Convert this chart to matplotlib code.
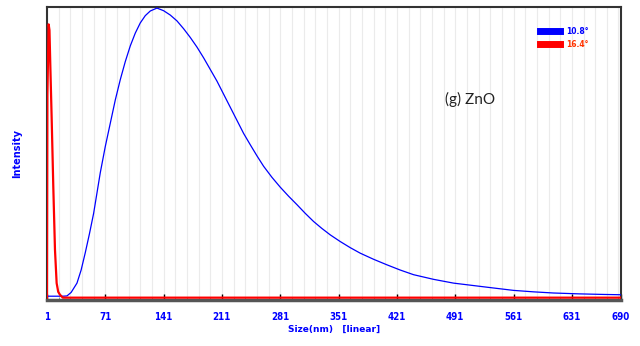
import matplotlib
matplotlib.use('Agg')
import matplotlib.pyplot as plt
from matplotlib.lines import Line2D
import numpy as np

# size distribution curves (intensity normalised to peak)
blue_x = [1, 20, 25, 30, 37, 42, 47, 52, 57, 61, 65, 71, 77, 83, 89, 95, 101, 107, 113, 119,
          125, 133, 141, 149, 157, 165, 173, 181, 189, 197, 205, 213, 221, 229, 237, 245,
          253, 261, 271, 281, 291, 301, 311, 321, 331, 341, 353, 365, 377, 393, 409, 425,
          441, 465, 489, 509, 529, 561, 585, 609, 640, 670, 690]
blue_y = [0.005, 0.005, 0.006, 0.018, 0.05, 0.095, 0.155, 0.22, 0.29, 0.36, 0.43, 0.52, 0.60,
          0.68, 0.75, 0.812, 0.866, 0.91, 0.945, 0.97, 0.986, 0.996, 0.987, 0.972, 0.952,
          0.925, 0.895, 0.862, 0.825, 0.785, 0.745, 0.70, 0.655, 0.61, 0.565, 0.526, 0.488,
          0.452, 0.414, 0.38, 0.349, 0.32, 0.29, 0.262, 0.238, 0.216, 0.193, 0.172, 0.153,
          0.132, 0.113, 0.095, 0.079, 0.063, 0.05, 0.043, 0.036, 0.025, 0.02, 0.016, 0.013,
          0.011, 0.01]
red_x = [1, 1.5, 3, 4, 5, 6.6, 8.6, 10.6, 12.6, 14.5, 16.6, 20, 690]
red_y = [0, 0.7, 0.94, 0.92, 0.8, 0.62, 0.38, 0.165, 0.05, 0.02, 0.01, 0, 0]
tick_vals = [1, 71, 141, 211, 281, 351, 421, 491, 561, 631, 690]
labels = ['10.8°', '16.4°']

fig = plt.figure(figsize=(6.4, 3.46), dpi=100)
ax = fig.add_axes([0.0734, 0.133, 0.8969, 0.847])

ax.plot(blue_x, blue_y, color='#0000ff', lw=0.9, zorder=3)
ax.plot(red_x, red_y, color='#ff0000', lw=1.6, zorder=4)

ax.set_xlim(1, 690)
ax.set_ylim(-0.008, 1.0)
ax.set_xticks(tick_vals)
ax.set_xticklabels([str(t) for t in tick_vals])
ax.set_xticks(np.arange(15, 690, 14), minor=True)
ax.set_yticks([])
ax.grid(True, which='both', axis='x', color='#ebebeb', lw=0.8, zorder=0)
ax.tick_params(axis='x', which='major', direction='in', length=4, width=1, color='black',
               labelsize=7, labelcolor='#0000ff', pad=9)
ax.tick_params(axis='x', which='minor', direction='in', length=2, color='#888888')
for lab in ax.get_xticklabels():
    lab.set_fontweight('bold')
    lab.set_fontstretch('condensed')

for s in ['top', 'right', 'left']:
    ax.spines[s].set_color('#333333')
    ax.spines[s].set_linewidth(1.5)
ax.spines['bottom'].set_color('#555555')
ax.spines['bottom'].set_linewidth(2.5)

ax.set_xlabel('Size(nm)   [linear]', color='#0000ff', fontsize=6.5, fontweight='bold', labelpad=2)
ax.set_ylabel('Intensity', color='#0000ff', fontsize=7, fontweight='bold', labelpad=18)

handles = [Line2D([0], [0], color='#0000ff', lw=5), Line2D([0], [0], color='#ff0000', lw=5)]
leg = ax.legend(handles, labels, loc='upper right', bbox_to_anchor=(0.955, 0.955), frameon=False,
                fontsize=5.5, handlelength=2.6, labelspacing=0.5, handletextpad=0.8)
for t, c in zip(leg.get_texts(), ['#0000ff', '#ff3300']):
    t.set_color(c)
    t.set_fontweight('bold')

ax.text(479, 0.68, '(g) ZnO', fontsize=11, family=['Lato', 'DejaVu Sans'], color='#222222',
        va='center', ha='left')

fig.savefig('out.png', dpi=100)
